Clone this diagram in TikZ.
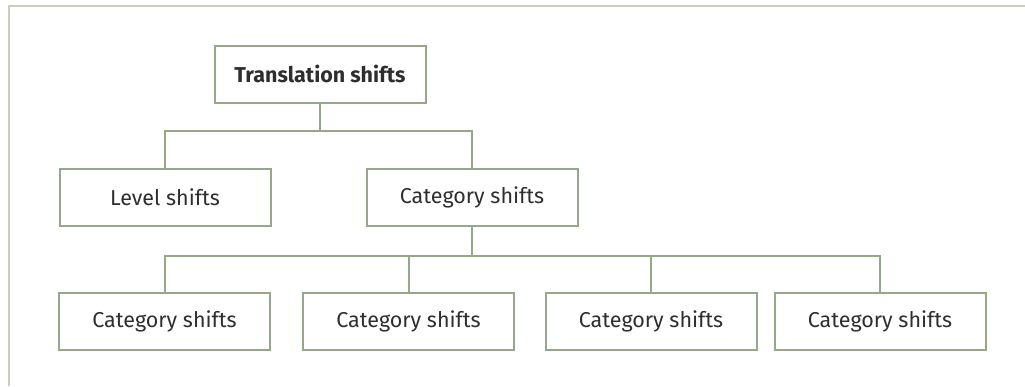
\documentclass[tikz,border=0pt]{standalone}
\usepackage{fontspec}
\setmainfont{Fira Sans}
\usetikzlibrary{calc}

\definecolor{boxgreen}{HTML}{97A88A}
\definecolor{framegreen}{HTML}{C7D0BF}
\definecolor{textgrey}{HTML}{2E2E2E}

\tikzset{
    shiftbox/.style={draw=boxgreen, line width=2pt, text=textgrey,
        minimum width=211pt, minimum height=57pt, inner sep=0pt,
        font=\fontsize{21.5}{24}\selectfont},
    link/.style={draw=boxgreen, line width=2pt}
}

\begin{document}
\begin{tikzpicture}[x=1pt, y=-1pt]
        \useasboundingbox (0,0) rectangle (1025,386);

        % frame
        \draw[framegreen, line width=2pt] (8.5,386) -- (8.5,5.5) -- (1025,5.5);

        \node[shiftbox, font=\fontsize{21.5}{24}\selectfont\bfseries] (trans) at (320,74) {Translation shifts};
        \node[shiftbox] (level) at (165,197.5) {Level shifts};
        \node[shiftbox] (cat) at (472,197.5) {Category shifts};

        \node[shiftbox] (catA) at (164.5,321) {Category shifts};
        \node[shiftbox] (catB) at (408.5,321) {Category shifts};
        \node[shiftbox] (catC) at (651,321) {Category shifts};
        \node[shiftbox] (catD) at (880,321) {Category shifts};

        \coordinate (J1) at (trans.south |- 0,131);
        \coordinate (J2) at (cat.south |- 0,256);

        \draw[link] (trans.south) -- (J1);
        \draw[link] (level.north) |- (J1) -| (cat.north);

        \draw[link] (cat.south) -- (J2);
        \draw[link] (catA.north) |- (J2) -| (catD.north);
        \draw[link] (catB.north) -- (catB.north |- J2);
        \draw[link] (catC.north) -- (catC.north |- J2);
    \end{tikzpicture}
\end{document}
